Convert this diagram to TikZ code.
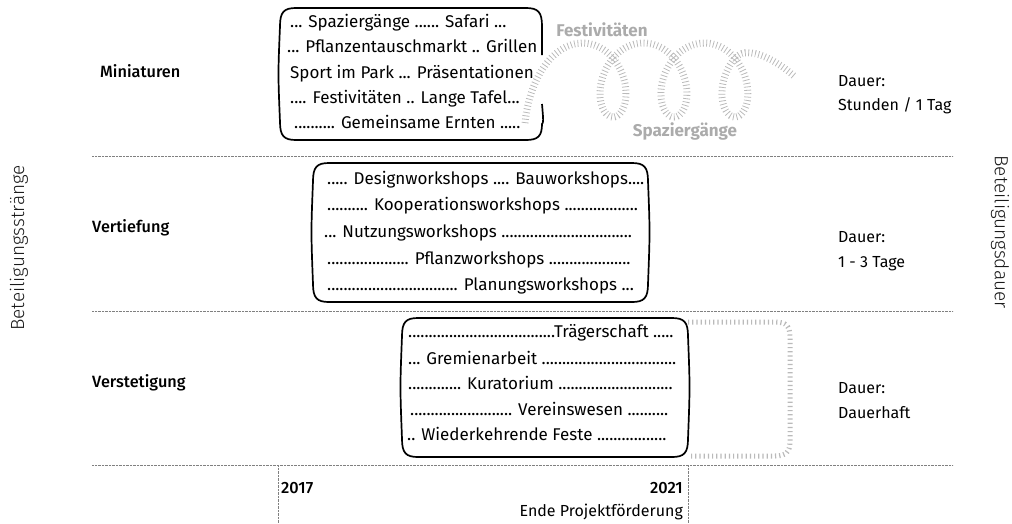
\documentclass[tikz,border=0pt]{standalone}
\usepackage{fontspec}
\setmainfont{Fira Sans}
\newfontfamily\medfont{Fira Sans Medium}
\newfontfamily\thinfont{Fira Sans Light}
\begin{document}
\begin{tikzpicture}[x=1pt,y=-1pt,
  txt/.style={anchor=mid west, inner sep=0pt, font=\fontsize{16}{19}\selectfont},
  boxtxt/.style={anchor=mid west, inner sep=0pt, font=\fontsize{17}{19}\selectfont},
  rowlabel/.style={anchor=mid west, inner sep=0pt, font=\fontsize{16.3}{19}\selectfont\medfont},
  axistitle/.style={inner sep=0pt, font=\fontsize{19}{22}\selectfont\thinfont, text=black!90},
  softlabel/.style={inner sep=0pt, font=\fontsize{17}{20}\selectfont\bfseries, text=black!33},
  boxline/.style={line width=1.7pt, black},
  gridline/.style={gray, line width=0.7pt, dash pattern=on 0.7pt off 0.7pt},
  hatch/.style={black!27, line width=7pt, dash pattern=on 0.8pt off 2.6pt},
]
\useasboundingbox (0,0) rectangle (1012,523);

% horizontal separators between the three strands
\draw[gridline] (92,156) -- (953,156);
\draw[gridline] (92,311) -- (953,311);
\draw[gridline] (92,465) -- (953,465);
% timeline markers
\draw[gridline] (278,465) -- (278,523);
\draw[gridline] (688,465) -- (688,523);

% axis titles
\node[axistitle, rotate=90] (strands) at (19,248) {Beteiligungsstränge};
\node[axistitle, rotate=-90] (duration) at (1000,232) {Beteiligungsdauer};

% strand labels
\node[rowlabel] (mini) at (100,75) {Miniaturen};
\node[rowlabel] (vert) at (92,230) {Vertiefung};
\node[rowlabel] (verst) at (92,385) {Verstetigung};

% duration labels
\node[txt] (d1a) at (838,84) {Dauer:};
\node[txt] (d1b) at (838,108) {Stunden / 1 Tag};
\node[txt] (d2a) at (838,240) {Dauer:};
\node[txt] (d2b) at (838,265) {1 - 3 Tage};
\node[txt] (d3a) at (838,391) {Dauer:};
\node[txt] (d3b) at (838,416) {Dauerhaft};

% timeline labels
\node[rowlabel] (y2017) at (281,491) {2017};
\node[rowlabel, anchor=mid east] (y2021) at (683,491) {2021};
\node[txt, anchor=mid east] (ende) at (683,514) {Ende Projektförderung};

% --- Miniaturen box (right side left open where the text runs out) ---
\draw[boxline] (542,104) .. controls (543.5,122) .. (542,124)
  .. controls (542,136) and (538,140) .. (526,140)
  -- (296,140)
  .. controls (284,140) and (280,136) .. (280,122)
  .. controls (278,74) .. (280,26)
  .. controls (280,12) and (284,8) .. (296,8)
  -- (526,8)
  .. controls (538,8) and (542,12) .. (542,26)
  -- (542,55);
\begin{scope}
  \clip (270,0) rectangle (540,150);
  \node[boxtxt] (m1) at (290,25) {... Spaziergänge ...... Safari ...};
  \node[boxtxt] (m2) at (287,50) {... Pflanzentauschmarkt .. Grillen};
  \node[boxtxt] (m3) at (290,76) {Sport im Park ... Präsentationen};
  \node[boxtxt] (m4) at (290,101) {.... Festivitäten .. Lange Tafel...};
  \node[boxtxt] (m5) at (294,126) {.......... Gemeinsame Ernten .....};
\end{scope}

% coiled walk line with its two labels
\draw[hatch] (525,123) .. controls (530,75) and (555,43) .. (582.5,43)
  -- plot[domain=-3.1416:14.766, samples=260, smooth]
     ({613 + 9.7*\x - 26.4*sin(\x r)}, {80 + 37*cos(\x r)})
  .. controls (745,46) and (770,55) .. (794,76);
\node[softlabel] (fest) at (602,30) {Festivitäten};
\node[softlabel] (spaz) at (685,131) {Spaziergänge};

% --- Vertiefung box ---
\draw[boxline] (329,163) -- (632,163)
  .. controls (644,163) and (648,167) .. (648,181)
  .. controls (650,232) .. (648,284)
  .. controls (648,298) and (644,302) .. (632,302)
  -- (329,302)
  .. controls (317,302) and (313,298) .. (313,284)
  .. controls (311,232) .. (313,181)
  .. controls (313,167) and (317,163) .. cycle;
\node[boxtxt] (v1) at (327,182) {..... Designworkshops .... Bauworkshops....};
\node[boxtxt] (v2) at (327,208) {.......... Kooperationsworkshops ..................};
\node[boxtxt] (v3) at (324,235) {... Nutzungsworkshops ................................};
\node[boxtxt] (v4) at (327,262) {.................... Pflanzworkshops ....................};
\node[boxtxt] (v5) at (327,288) {................................ Planungsworkshops ...};

% --- Verstetigung box with its open-ended continuation ---
\draw[hatch, line width=5pt, dash pattern=on 1.2pt off 3pt]
  (688,322) -- (775,322)
  .. controls (786,322) and (790,326) .. (790,337)
  -- (790,441)
  .. controls (790,452) and (786,456) .. (775,456)
  -- (688,456);
\draw[boxline] (418,318) -- (672,318)
  .. controls (684,318) and (688,322) .. (688,336)
  .. controls (690,387) .. (688,439)
  .. controls (688,453) and (684,457) .. (672,457)
  -- (418,457)
  .. controls (406,457) and (402,453) .. (402,439)
  .. controls (400,387) .. (402,336)
  .. controls (402,322) and (406,318) .. cycle;
\node[boxtxt] (s1) at (408,335) {....................................Trägerschaft .....};
\node[boxtxt] (s2) at (408,362) {... Gremienarbeit .................................};
\node[boxtxt] (s3) at (408,387) {............. Kuratorium ............................};
\node[boxtxt] (s4) at (410,413) {......................... Vereinswesen ..........};
\node[boxtxt] (s5) at (407,438) {.. Wiederkehrende Feste .................};
\end{tikzpicture}
\end{document}
